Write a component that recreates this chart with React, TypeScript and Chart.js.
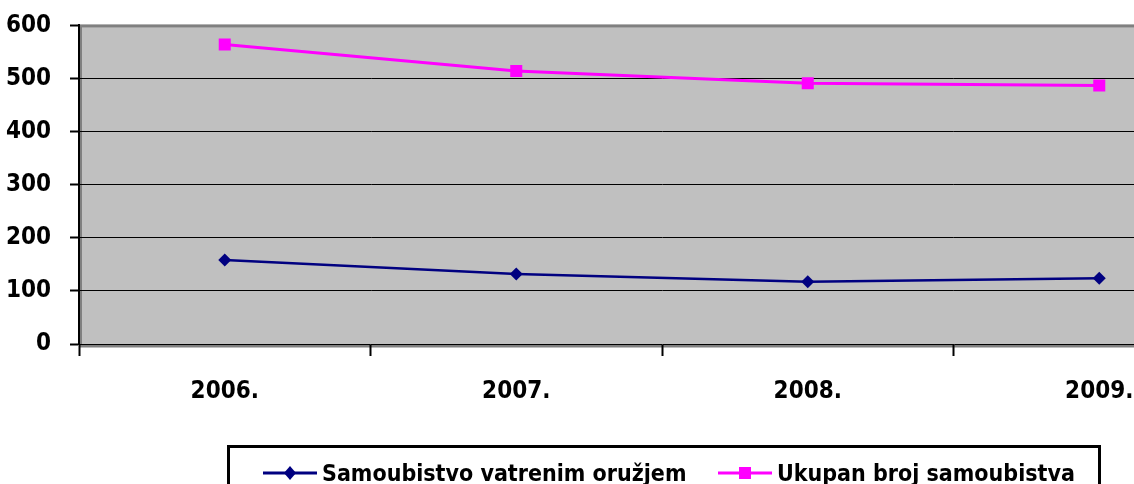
import React, { useEffect, useRef } from "react";
import { Chart, registerables } from "chart.js";

Chart.register(...registerables);

const categories = ["2006.", "2007.", "2008.", "2009."];
const firearmSuicides = [158, 132, 117, 124];
const totalSuicides = [564, 514, 491, 487];
const seriesNames = ["Samoubistvo vatrenim oružjem", "Ukupan broj samoubistva"];
const yTicks = [0, 100, 200, 300, 400, 500, 600];

const FONT = "'DejaVu Sans Condensed', 'DejaVu Sans', sans-serif";
const NAVY = "#000080";
const PINK = "#FF00FF";
const SHIFT = 8;

const framePlugin = {
  id: "frame",
  beforeDraw(chart: any) {
    const { ctx, chartArea: a } = chart;
    ctx.save();
    ctx.fillStyle = "#C0C0C0";
    ctx.fillRect(a.left, a.top, a.right - a.left, a.bottom - a.top);
    ctx.strokeStyle = "#808080";
    ctx.lineWidth = 3;
    ctx.strokeRect(a.left + 1.5, a.top + 0.5, a.right - a.left, a.bottom - a.top + 1.5);
    ctx.restore();
  },
};

const legendPlugin = {
  id: "boxLegend",
  afterDraw(chart: any) {
    const { ctx } = chart;
    const top = chart.chartArea.bottom + 102;
    ctx.save();
    ctx.strokeStyle = "#000";
    ctx.lineWidth = 3;
    ctx.strokeRect(228.5, top + 0.5, 871, 80);
    const items = [
      { x0: 263, color: NAVY, style: "rectRot" },
      { x0: 718, color: PINK, style: "rect" },
    ];
    const y = top + 27;
    ctx.font = `bold 23px ${FONT}`;
    ctx.textBaseline = "alphabetic";
    ctx.textAlign = "left";
    items.forEach((it, i) => {
      ctx.strokeStyle = it.color;
      ctx.lineWidth = 3;
      ctx.beginPath();
      ctx.moveTo(it.x0, y);
      ctx.lineTo(it.x0 + 54, y);
      ctx.stroke();
      ctx.fillStyle = it.color;
      const cx = it.x0 + 27;
      ctx.beginPath();
      if (it.style === "rect") {
        ctx.rect(cx - 6, y - 6, 12, 12);
      } else {
        ctx.moveTo(cx, y - 7);
        ctx.lineTo(cx + 6, y);
        ctx.lineTo(cx, y + 7);
        ctx.lineTo(cx - 6, y);
        ctx.closePath();
      }
      ctx.fill();
      ctx.fillStyle = "#000";
      ctx.fillText(seriesNames[i], it.x0 + 59, y + 8);
    });
    ctx.restore();
  },
};

export default function App() {
  const ref = useRef<HTMLCanvasElement | null>(null);
  useEffect(() => {
    if (!ref.current) return;
    const chart = new Chart(ref.current, {
      type: "line",
      data: {
        labels: categories,
        datasets: [
          {
            label: seriesNames[0],
            data: firearmSuicides,
            borderColor: NAVY,
            backgroundColor: NAVY,
            borderWidth: 2.5,
            pointStyle: "rectRot",
            pointRadius: 6.5,
            pointBorderWidth: 0,
            tension: 0,
          },
          {
            label: seriesNames[1],
            data: totalSuicides,
            borderColor: PINK,
            backgroundColor: PINK,
            borderWidth: 3,
            pointStyle: "rect",
            pointRadius: 8.5,
            pointBorderWidth: 0,
            tension: 0,
          },
        ],
      },
      options: {
        animation: false,
        responsive: false,
        devicePixelRatio: 1,
        layout: { autoPadding: false, padding: { top: 24, right: 15, bottom: 0, left: 0 } },
        plugins: { legend: { display: false }, tooltip: { enabled: false } },
        scales: {
          x: {
            offset: true,
            afterFit(scale: any) {
              scale.height = 140;
            },
            grid: {
              offset: true,
              drawOnChartArea: false,
              tickLength: 12,
              tickColor: "#000",
              tickWidth: 2,
            },
            border: { color: "#000", width: 1 },
            ticks: {
              color: "#000",
              padding: 21,
              font: { family: FONT, size: 24, weight: "bold" },
            },
          },
          y: {
            min: 0,
            max: 600,
            afterFit(scale: any) {
              scale.width = 79;
            },
            afterBuildTicks(scale: any) {
              scale.ticks = yTicks.map((v) => ({ value: v }));
            },
            grid: {
              color: (c: any) => (c.tick && (c.tick.value === 600 || c.tick.value === 0) ? "rgba(0,0,0,0)" : "#000"),
              lineWidth: 1,
              tickLength: 9,
              tickColor: "#000",
              tickWidth: 2,
            },
            border: { color: "#000", width: 2 },
            ticks: {
              color: "#000",
              padding: 19,
              font: { family: FONT, size: 24, weight: "bold" },
            },
          },
        },
      },
      plugins: [framePlugin, legendPlugin],
    });
    return () => chart.destroy();
  }, []);
  return (
    <div style={{ position: "fixed", left: 0, top: 0, width: 1134, height: 484, overflow: "hidden", background: "#fff" }}>
      <canvas ref={ref} width={1260} height={484 + SHIFT} style={{ display: "block", marginTop: -SHIFT }} />
    </div>
  );
}
